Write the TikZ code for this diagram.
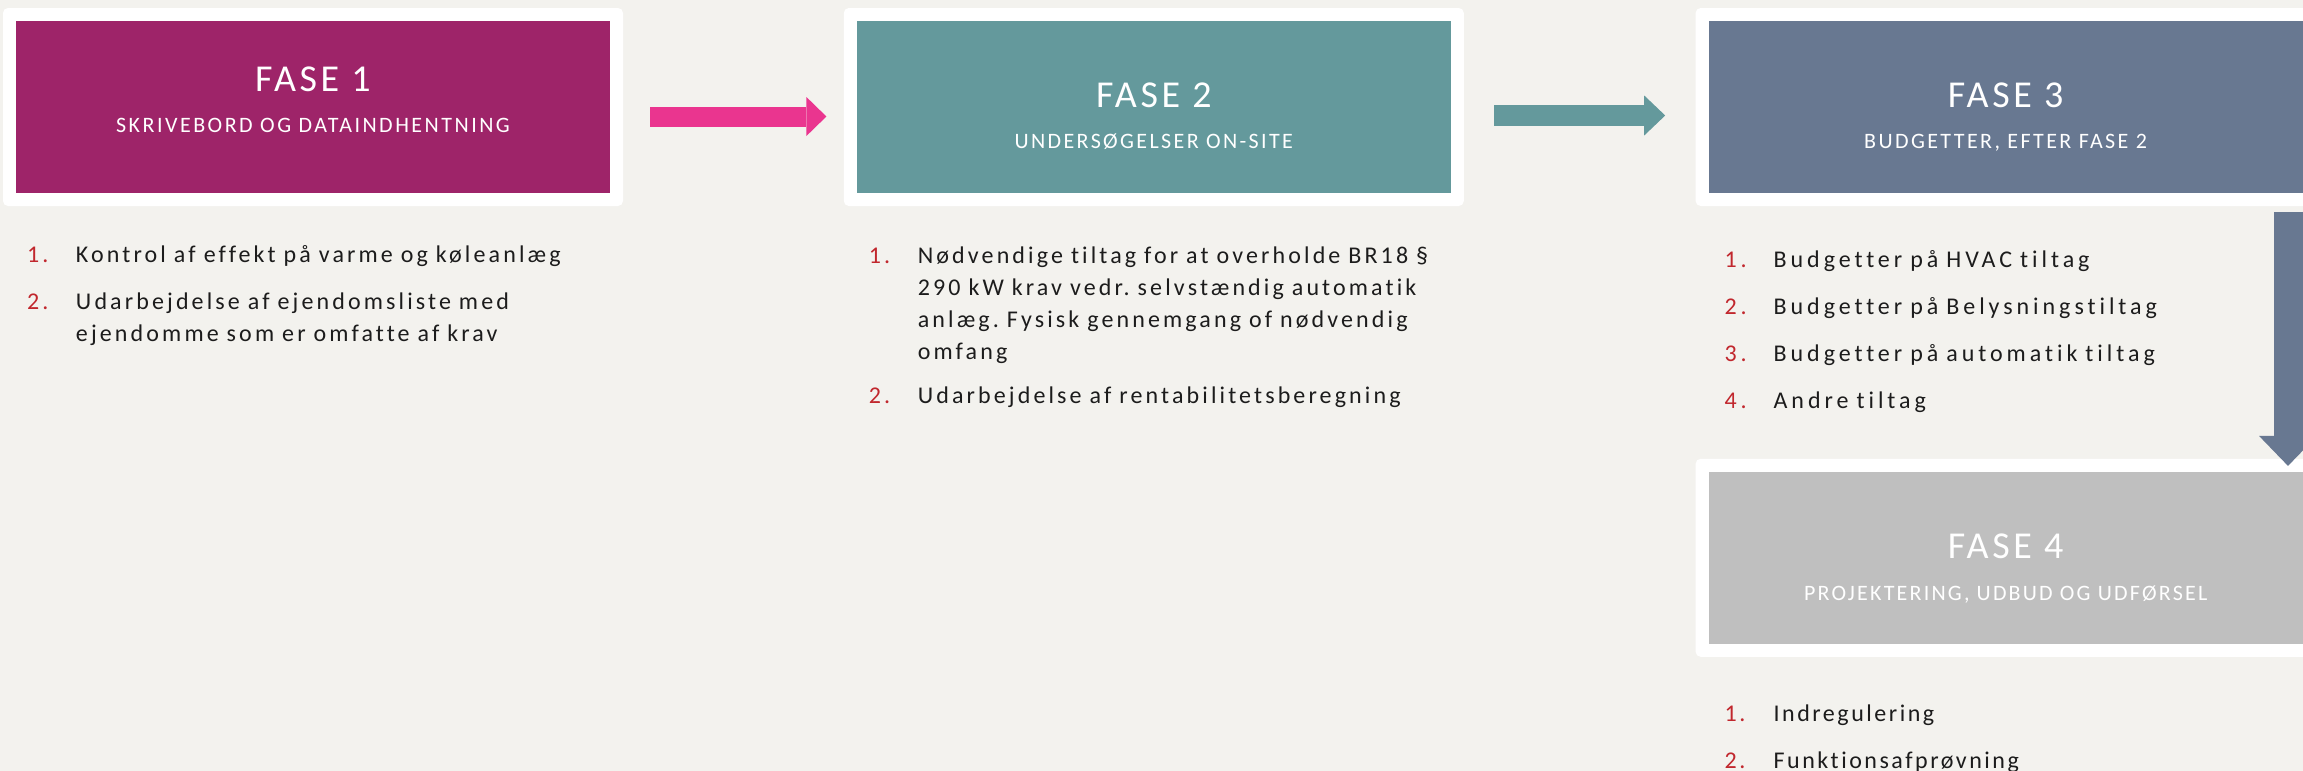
\documentclass[tikz,border=0pt]{standalone}
\usepackage{fontspec}
\setmainfont{Carlito}[Ligatures=NoCommon]
\usetikzlibrary{arrows.meta,
                positioning
                }
\frenchspacing

\definecolor{bund}{HTML}{F3F2EE}
\definecolor{fasea}{HTML}{9E2469}
\definecolor{faseb}{HTML}{64999C}
\definecolor{fasec}{HTML}{687891}
\definecolor{fased}{HTML}{BFBFBF}
\definecolor{pink}{HTML}{EA358F}
\definecolor{nummer}{HTML}{C1272D}
\definecolor{tekst}{HTML}{1C1C1C}

\newcommand{\punkt}[2]{\par\parskip=7.5pt\noindent
    \makebox[24.5pt][l]{\strut\textcolor{nummer}{#1}}\parbox[t]{275pt}{\raggedright\strut#2}}

\begin{document}
\begin{tikzpicture}[
    node distance = 110pt,
 frame/.style = {fill=white, rounded corners=2.5pt, inner sep=0pt,
                 minimum width=310pt, minimum height=99pt},
  fase/.style = {inner sep=0pt, minimum width=297pt, minimum height=86pt},
 titel/.style = {anchor=base, text=white, inner sep=0pt,
                 font=\fontsize{19}{22}\selectfont\addfontfeature{LetterSpace=9.5}},
 under/.style = {anchor=base, text=white, inner sep=0pt,
                 font=\fontsize{11}{13}\selectfont\addfontfeature{LetterSpace=#1}},
 under/.default = 10,
 liste/.style = {text width=300pt, align=left, inner sep=0pt, text=tekst,
                 font=\fontsize{12}{16}\selectfont\addfontfeature{LetterSpace=#1}},
 liste/.default = 13,
  pil/.style = {line width=10pt,
                -{Triangle[length=10pt, width=19.5pt, line width=0pt]}}
                    ]
\fill[bund] (0,0) rectangle (1151.5pt,-385.5pt);
\useasboundingbox (0,0) rectangle (1151.5pt,-385.5pt);
% faser
\node (frame1) [frame] at (156.5pt,-53.5pt) {};
\node (fase1) [fase, fill=fasea] at (frame1) {};
\node (frame2) [frame, right=of frame1] {};
\node (fase2) [fase, fill=faseb] at (frame2) {};
\node (frame3) [frame, right=115.5pt of frame2] {};
\node (fase3) [fase, fill=fasec] at (frame3) {};
\node (frame4) [frame, below=126pt of frame3] {};
\node (fase4) [fase, fill=fased] at (frame4) {};
% overskrifter
\node (titel1) [titel] at ([yshift=8pt]fase1.center) {FASE 1};
\node (under1) [under=11.3] at ([yshift=-12.5pt]fase1.center) {SKRIVEBORD OG DATAINDHENTNING};
\node (titel2) [titel] at ([yshift=-0.3pt]fase2.center) {FASE 2};
\node (under2) [under=10.8] at ([yshift=-20.5pt]fase2.center) {UNDERSØGELSER ON-SITE};
\node (titel3) [titel] at ([yshift=-0.3pt]fase3.center) {FASE 3};
\node (under3) [under=11] at ([yshift=-20.5pt]fase3.center) {BUDGETTER, EFTER FASE 2};
\node (titel4) [titel] at ([yshift=-0.3pt]fase4.center) {FASE 4};
\node (under4) [under] at ([yshift=-21.5pt]fase4.center) {PROJEKTERING, UDBUD OG UDFØRSEL};
% lister
\node (liste1) [liste, below right=4.3pt and 12pt of frame1.south west]
    {\punkt{1.}{Kontrol af effekt på varme og køleanlæg}
     \punkt{2.}{Udarbejdelse af ejendomsliste med\\ ejendomme som er omfatte af krav}};
\node (liste2) [liste, below right=5pt and 12.5pt of frame2.south west]
    {\punkt{1.}{Nødvendige tiltag for at overholde BR18 §\\ 290 kW krav vedr. selvstændig automatik\\
                anlæg. Fysisk gennemgang of nødvendig\\ omfang}
     \punkt{2.}{Udarbejdelse af rentabilitetsberegning}};
\node (liste3) [liste=16.5, below right=7pt and 14.5pt of frame3.south west]
    {\punkt{1.}{Budgetter på HVAC tiltag}
     \punkt{2.}{Budgetter på Belysningstiltag}
     \punkt{3.}{Budgetter på automatik tiltag}
     \punkt{4.}{Andre tiltag}};
\node (liste4) [liste=10.5, below right=8.5pt and 14.5pt of frame4.south west]
    {\punkt{1.}{Indregulering}
     \punkt{2.}{Funktionsafprøvning}};
% pile
\draw[pil, pink, shorten <=13.5pt, shorten >=8.5pt]
    ([yshift=-4.75pt]frame1.east) -- ([yshift=-4.75pt]frame2.west);
\draw[pil, faseb, line width=10.5pt, shorten <=15pt, shorten >=15pt,
      -{Triangle[length=10.5pt, width=20pt, line width=0pt]}]
    ([yshift=-4.25pt]frame2.east) -- ([yshift=-4.25pt]frame3.west);
\draw[pil, fasec, line width=14.5pt, shorten <=2.75pt, shorten >=-3.75pt,
      -{Triangle[length=15pt, width=29pt, line width=0pt]}]
    ([xshift=-14pt]frame3.south east) -- ([xshift=-14pt]frame4.north east);
\end{tikzpicture}
\end{document}
